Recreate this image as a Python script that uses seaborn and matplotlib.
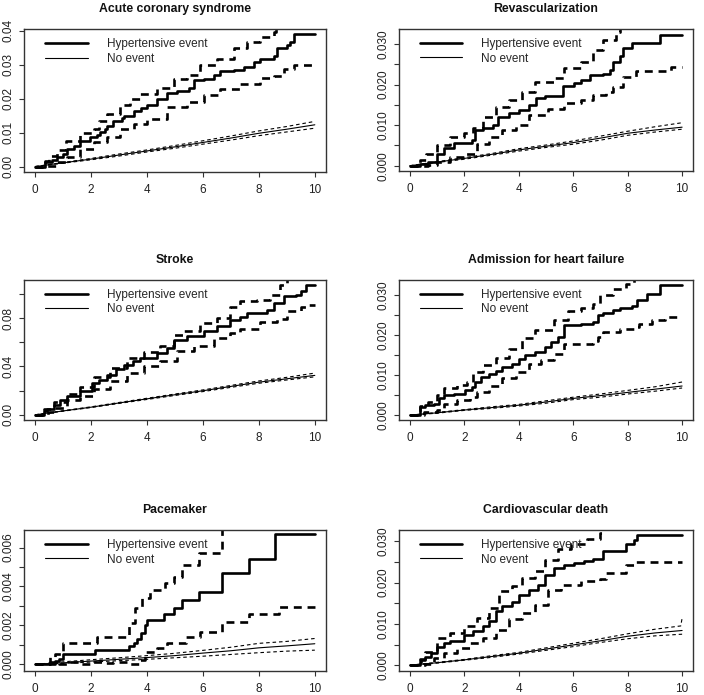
import matplotlib
matplotlib.use("Agg")
import matplotlib.pyplot as plt
from matplotlib.lines import Line2D
from matplotlib.ticker import FixedLocator, FixedFormatter
import seaborn as sns

# ---------------- data ----------------
titles = ["Acute coronary syndrome", "Revascularization", "Stroke",
          "Admission for heart failure", "Pacemaker", "Cardiovascular death"]
legend_labels = ["Hypertensive event", "No event"]
years = [0, 1, 2, 3, 4, 5, 6, 7, 8, 9, 10]
xticks = [0, 2, 4, 6, 8, 10]

# Acute coronary syndrome
acs_est_t = [0, 0.35, 0.6, 0.78, 1.0, 1.13, 1.4, 1.6, 1.97, 2.2, 2.33, 2.5, 2.57, 2.8, 3.1, 3.16, 3.52, 3.8, 4.0, 4.36, 4.71, 5.07, 5.49, 5.67, 6.03, 6.38, 6.62, 7.1, 7.46, 7.82, 8.05, 8.53, 8.65, 9.0, 9.13, 9.25, 10.0]
acs_est = [0, 0.0012, 0.002, 0.0027, 0.0038, 0.0051, 0.0062, 0.0074, 0.0086, 0.0094, 0.0101, 0.0112, 0.012, 0.0133, 0.0142, 0.015, 0.0165, 0.0172, 0.018, 0.020, 0.0216, 0.0222, 0.0232, 0.0254, 0.0257, 0.0269, 0.028, 0.0285, 0.0293, 0.0308, 0.0318, 0.0325, 0.0348, 0.0358, 0.0367, 0.0389, 0.0389]
acs_hi_t = [0, 0.35, 0.5, 0.78, 1.1, 1.6, 2.09, 2.3, 2.57, 3.04, 3.4, 3.76, 4.36, 4.95, 5.43, 5.9, 6.5, 7.1, 7.58, 8.05, 8.53, 8.6]
acs_hi = [0, 0.0015, 0.003, 0.005, 0.0075, 0.0098, 0.011, 0.0135, 0.0155, 0.018, 0.0198, 0.0214, 0.0232, 0.0259, 0.0269, 0.0298, 0.0318, 0.0348, 0.0367, 0.0382, 0.0397, 0.042]
acs_lo_t = [0, 0.4, 0.78, 1.13, 1.6, 2.09, 2.57, 3.04, 3.52, 4.0, 4.71, 5.43, 6.03, 6.62, 7.34, 8.05, 8.53, 8.89, 9.25, 10]
acs_lo = [0, 0.0003, 0.0012, 0.0027, 0.0051, 0.0071, 0.0088, 0.011, 0.0125, 0.014, 0.0175, 0.019, 0.0211, 0.0229, 0.0244, 0.0262, 0.0266, 0.0288, 0.0298, 0.0298]
acs_no_est = [0, 0.0011, 0.0022, 0.0034, 0.0046, 0.0058, 0.0071, 0.0084, 0.0098, 0.011, 0.0123]
acs_no_lo = [0, 0.001, 0.002, 0.0031, 0.0043, 0.0054, 0.0066, 0.0078, 0.0091, 0.0102, 0.0113]
acs_no_hi = [0, 0.0012, 0.0024, 0.0037, 0.0049, 0.0062, 0.0076, 0.0090, 0.0105, 0.0118, 0.0133]

# Revascularization
rev_est_t = [0, 0.36, 0.66, 1.01, 1.25, 1.61, 1.97, 2.27, 2.39, 2.68, 3.04, 3.22, 3.64, 4.0, 4.36, 4.65, 4.95, 5.61, 6.03, 6.27, 6.62, 7.1, 7.34, 7.46, 7.7, 7.82, 8.17, 9.19, 10]
rev_est = [0, 0.0005, 0.001, 0.003, 0.0043, 0.0055, 0.0057, 0.0063, 0.0088, 0.0094, 0.01, 0.012, 0.0129, 0.0137, 0.015, 0.0166, 0.0173, 0.0196, 0.0203, 0.0211, 0.0224, 0.0226, 0.0236, 0.0256, 0.027, 0.0289, 0.0303, 0.0323, 0.0323]
rev_hi_t = [0, 0.36, 0.6, 1.01, 1.49, 1.97, 2.33, 2.68, 3.16, 3.64, 4.12, 4.59, 5.31, 5.67, 6.27, 6.74, 7.1, 7.58, 7.7]
rev_hi = [0, 0.0014, 0.003, 0.0051, 0.0071, 0.008, 0.0092, 0.0121, 0.0145, 0.0162, 0.0182, 0.0207, 0.0215, 0.024, 0.0256, 0.0285, 0.031, 0.033, 0.036]
rev_lo_t = [0, 0.66, 1.01, 1.49, 1.97, 2.45, 2.92, 3.4, 3.88, 4.36, 5.07, 5.67, 6.27, 6.74, 7.22, 7.46, 7.82, 8.29, 9.6, 10]
rev_lo = [0, 0.0002, 0.001, 0.0022, 0.003, 0.0053, 0.007, 0.0088, 0.01, 0.0125, 0.0141, 0.0154, 0.0162, 0.0175, 0.0182, 0.0195, 0.0218, 0.0234, 0.0244, 0.0244]
rev_no_est = [0, 0.0009, 0.0018, 0.0028, 0.0039, 0.0048, 0.0057, 0.0068, 0.008, 0.0088, 0.0095]
rev_no_lo = [0, 0.0008, 0.0016, 0.0026, 0.0036, 0.0045, 0.0053, 0.0063, 0.0075, 0.0083, 0.009]
rev_no_hi = [0, 0.0010, 0.0020, 0.0030, 0.0042, 0.0051, 0.0061, 0.0073, 0.0085, 0.0096, 0.0106]

# Stroke
stk_est_t = [0, 0.3, 0.42, 0.66, 0.9, 1.13, 1.61, 2.03, 2.3, 2.57, 2.9, 3.16, 3.5, 3.76, 4.36, 4.71, 4.95, 5.43, 6.03, 6.5, 6.98, 7.34, 7.58, 8.29, 8.53, 8.89, 9.31, 9.49, 9.67, 10]
stk_est = [0, 0.0028, 0.005, 0.0083, 0.012, 0.0152, 0.0193, 0.0262, 0.029, 0.0331, 0.0375, 0.0414, 0.0445, 0.0469, 0.051, 0.0552, 0.0621, 0.0648, 0.069, 0.0731, 0.0786, 0.0806, 0.0841, 0.0863, 0.0924, 0.0979, 0.0993, 0.1026, 0.1076, 0.1076]
stk_hi_t = [0, 0.3, 0.66, 1.13, 1.61, 2.09, 2.68, 3.28, 3.88, 4.47, 4.95, 5.3, 5.9, 6.5, 6.98, 7.34, 7.94, 8.41, 8.77, 9.01]
stk_hi = [0, 0.005, 0.011, 0.0174, 0.0234, 0.0312, 0.0386, 0.0469, 0.0519, 0.0566, 0.066, 0.069, 0.0759, 0.08, 0.0888, 0.0938, 0.0952, 0.0993, 0.1076, 0.115]
stk_lo_t = [0, 0.45, 0.66, 1.13, 1.61, 2.09, 2.68, 3.28, 3.88, 4.47, 5.07, 5.67, 6.38, 6.98, 7.34, 8.05, 8.65, 9.01, 9.49, 9.73, 10]
stk_lo = [0, 0.002, 0.0055, 0.0124, 0.0152, 0.0215, 0.0276, 0.0345, 0.04, 0.0441, 0.053, 0.0566, 0.0634, 0.0676, 0.0712, 0.0767, 0.0794, 0.0861, 0.0888, 0.091, 0.091]
stk_no_est = [0, 0.0032, 0.0063, 0.0098, 0.0132, 0.0166, 0.0199, 0.0235, 0.027, 0.0298, 0.0326]
stk_no_lo = [0, 0.003, 0.006, 0.0094, 0.0127, 0.016, 0.0192, 0.0227, 0.0261, 0.0288, 0.0314]
stk_no_hi = [0, 0.0034, 0.0066, 0.0102, 0.0137, 0.0172, 0.0206, 0.0243, 0.028, 0.031, 0.0345]

# Admission for heart failure
hf_est_t = [0, 0.36, 0.54, 0.9, 1.07, 1.25, 1.61, 2.03, 2.27, 2.39, 2.63, 2.92, 3.16, 3.4, 3.76, 4.0, 4.24, 4.59, 4.95, 5.19, 5.43, 5.67, 6.27, 6.74, 6.92, 7.1, 7.46, 7.7, 8.17, 8.35, 8.71, 9.19, 10]
hf_est = [0, 0.0021, 0.0025, 0.0027, 0.0042, 0.005, 0.0054, 0.0063, 0.0071, 0.0083, 0.0096, 0.0102, 0.011, 0.0121, 0.0129, 0.014, 0.015, 0.0158, 0.0171, 0.0183, 0.0196, 0.0225, 0.0227, 0.0233, 0.025, 0.0256, 0.0263, 0.0268, 0.0273, 0.0288, 0.0304, 0.0325, 0.0325]
hf_hi_t = [0, 0.36, 0.66, 1.01, 1.25, 1.73, 2.09, 2.33, 2.68, 3.16, 3.64, 4.12, 4.59, 5.31, 5.79, 6.27, 6.74, 6.98, 7.46, 7.94, 8.23]
hf_hi = [0, 0.0022, 0.0033, 0.005, 0.0067, 0.0075, 0.0083, 0.0108, 0.0125, 0.0142, 0.0165, 0.0192, 0.0213, 0.0238, 0.026, 0.0268, 0.0279, 0.03, 0.0315, 0.0329, 0.035]
hf_lo_t = [0, 0.5, 1.01, 1.25, 1.73, 2.21, 2.45, 2.92, 3.4, 3.88, 4.36, 4.83, 5.31, 5.67, 6.74, 6.92, 7.1, 7.7, 8.23, 8.41, 8.89, 9.37, 10]
hf_lo = [0, 0.0008, 0.0013, 0.0029, 0.0038, 0.0046, 0.0058, 0.0073, 0.0092, 0.0108, 0.0129, 0.0138, 0.0154, 0.0179, 0.0185, 0.0196, 0.0208, 0.0215, 0.0221, 0.0229, 0.0238, 0.0246, 0.0246]
hf_no_est = [0, 0.0006, 0.0013, 0.0019, 0.0025, 0.0033, 0.0042, 0.0049, 0.0057, 0.0065, 0.0073]
hf_no_lo = [0, 0.0005, 0.0012, 0.0017, 0.0023, 0.003, 0.0039, 0.0045, 0.0053, 0.006, 0.0068]
hf_no_hi = [0, 0.0007, 0.0014, 0.0021, 0.0027, 0.0036, 0.0045, 0.0053, 0.0062, 0.0071, 0.0083]

# Pacemaker
pm_est_t = [0, 0.72, 0.84, 1.01, 2.15, 3.34, 3.52, 3.63, 3.8, 3.92, 4.0, 4.59, 4.95, 5.25, 5.85, 6.68, 7.64, 8.59, 10]
pm_est = [0, 0.00019, 0.0003, 0.00052, 0.00073, 0.00096, 0.00108, 0.0013, 0.0016, 0.002, 0.0023, 0.0026, 0.0029, 0.0033, 0.0037, 0.0047, 0.0054, 0.0067, 0.0067]
pm_hi_t = [0, 0.54, 0.72, 1.01, 2.21, 3.34, 3.58, 3.82, 4.12, 4.65, 4.95, 5.25, 5.85, 6.68]
pm_hi = [0, 0.00036, 0.00053, 0.0011, 0.0014, 0.0021, 0.0029, 0.0034, 0.0038, 0.0042, 0.0045, 0.0051, 0.0057, 0.008]
pm_lo_t = [0, 0.54, 0.84, 1.2, 1.6, 2.0, 2.4, 2.8, 3.3, 3.7, 3.92, 4.34, 4.7, 5.4, 5.9, 6.68, 7.64, 8.71, 10]
pm_lo = [0, 0.00012, 0.00003, 0.0001, 0.00004, 0.0001, 0.00005, 0.00012, 0.00003, 0.0002, 0.00065, 0.00082, 0.00108, 0.0014, 0.00167, 0.0022, 0.0026, 0.00295, 0.00295]
pm_no_est = [0, 0.00008, 0.00017, 0.00026, 0.00035, 0.00045, 0.00058, 0.0007, 0.00085, 0.00095, 0.00106]
pm_no_lo = [0, 0.00005, 0.00012, 0.00019, 0.00026, 0.00034, 0.00042, 0.00051, 0.0006, 0.00068, 0.00073]
pm_no_hi = [0, 0.00013, 0.00024, 0.00034, 0.00045, 0.00057, 0.00072, 0.00088, 0.00108, 0.00118, 0.00133]

# Cardiovascular death
cv_est_t = [0, 0.36, 0.42, 0.54, 0.78, 1.01, 1.25, 1.49, 1.97, 2.33, 2.68, 2.92, 3.16, 3.4, 3.76, 4.0, 4.36, 4.71, 4.95, 5.31, 5.67, 6.03, 6.38, 6.74, 7.1, 7.94, 8.23, 8.35, 10]
cv_est = [0, 0.0008, 0.0013, 0.0019, 0.0029, 0.0043, 0.0053, 0.0059, 0.0074, 0.0083, 0.0094, 0.0108, 0.013, 0.0142, 0.0154, 0.0171, 0.0183, 0.0195, 0.0219, 0.0235, 0.0243, 0.0247, 0.0251, 0.0257, 0.0277, 0.0294, 0.0304, 0.0316, 0.0316]
cv_hi_t = [0, 0.36, 0.54, 1.01, 1.49, 1.97, 2.45, 2.92, 3.28, 3.76, 4.12, 4.59, 4.95, 5.43, 5.91, 6.5, 6.98, 7.05]
cv_hi = [0, 0.0015, 0.0033, 0.0065, 0.0078, 0.0094, 0.0114, 0.0138, 0.0179, 0.0191, 0.0211, 0.0227, 0.0255, 0.028, 0.0292, 0.0306, 0.032, 0.034]
cv_lo_t = [0, 0.54, 0.9, 1.25, 1.73, 2.21, 2.68, 3.16, 3.64, 4.12, 4.59, 5.07, 5.55, 6.27, 6.98, 7.22, 7.94, 8.29, 10]
cv_lo = [0, 0.0002, 0.0017, 0.0029, 0.0041, 0.0053, 0.0065, 0.0086, 0.0112, 0.0126, 0.0146, 0.0183, 0.0193, 0.0203, 0.0209, 0.0223, 0.0243, 0.025, 0.025]
cv_no_est = [0, 0.0006, 0.0013, 0.0021, 0.0029, 0.0039, 0.0049, 0.0059, 0.007, 0.0078, 0.0084]
cv_no_lo = [0, 0.0005, 0.0012, 0.0019, 0.0027, 0.0036, 0.0045, 0.0055, 0.0064, 0.0071, 0.0075]
cv_no_hi_t = [0, 1, 2, 3, 4, 5, 6, 7, 8, 9, 9.95, 10]
cv_no_hi = [0, 0.0007, 0.0014, 0.0023, 0.0031, 0.0042, 0.0053, 0.0064, 0.0076, 0.0087, 0.0095, 0.0114]

# y ticks per panel (labels blank where R dropped them)
acs_yticks = [0.00, 0.01, 0.02, 0.03, 0.04]
acs_ylabels = ["0.00", "0.01", "0.02", "0.03", "0.04"]
rev_yticks = [0.0, 0.005, 0.010, 0.015, 0.020, 0.025, 0.030]
rev_ylabels = ["0.000", "", "0.010", "", "0.020", "", "0.030"]
stk_yticks = [0.0, 0.02, 0.04, 0.06, 0.08, 0.10]
stk_ylabels = ["0.00", "", "0.04", "", "0.08", ""]
hf_yticks = [0.0, 0.005, 0.010, 0.015, 0.020, 0.025, 0.030]
hf_ylabels = ["0.000", "", "0.010", "", "0.020", "", "0.030"]
pm_yticks = [0.0, 0.001, 0.002, 0.003, 0.004, 0.005, 0.006]
pm_ylabels = ["0.000", "", "0.002", "", "0.004", "", "0.006"]
cv_yticks = [0.0, 0.005, 0.010, 0.015, 0.020, 0.025, 0.030]
cv_ylabels = ["0.000", "", "0.010", "", "0.020", "", "0.030"]

# ---------------- layout / style ----------------
sns.set_theme(style="ticks")
plt.rcParams["font.family"] = ["Liberation Sans", "DejaVu Sans"]

W, H = 704, 695
fig = plt.figure(figsize=(W / 100, H / 100), dpi=100)

def frac(l, t, r, b):
    return [l / W, 1 - b / H, (r - l) / W, (b - t) / H]

boxes = [frac(24, 29, 326, 172), frac(399, 29, 693, 171),
         frac(24, 280, 326, 420), frac(399, 280, 693, 420),
         frac(24, 530, 326, 671), frac(399, 530, 693, 671)]
ylims = [(-0.0016, 0.0405), (-0.0013, 0.0337), (-0.0043, 0.1115),
         (-0.0012, 0.0338), (-0.00034, 0.0069), (-0.0014, 0.0327)]

panels = [
    (acs_est_t, acs_est, acs_hi_t, acs_hi, acs_lo_t, acs_lo, years, acs_no_est, acs_no_lo, years, acs_no_hi, acs_yticks, acs_ylabels),
    (rev_est_t, rev_est, rev_hi_t, rev_hi, rev_lo_t, rev_lo, years, rev_no_est, rev_no_lo, years, rev_no_hi, rev_yticks, rev_ylabels),
    (stk_est_t, stk_est, stk_hi_t, stk_hi, stk_lo_t, stk_lo, years, stk_no_est, stk_no_lo, years, stk_no_hi, stk_yticks, stk_ylabels),
    (hf_est_t, hf_est, hf_hi_t, hf_hi, hf_lo_t, hf_lo, years, hf_no_est, hf_no_lo, years, hf_no_hi, hf_yticks, hf_ylabels),
    (pm_est_t, pm_est, pm_hi_t, pm_hi, pm_lo_t, pm_lo, years, pm_no_est, pm_no_lo, years, pm_no_hi, pm_yticks, pm_ylabels),
    (cv_est_t, cv_est, cv_hi_t, cv_hi, cv_lo_t, cv_lo, years, cv_no_est, cv_no_lo, cv_no_hi_t, cv_no_hi, cv_yticks, cv_ylabels),
]

THICK = 1.9
THIN = 0.8
thick_dash = (0, (3.0, 2.2))
thin_dash = (0, (3.2, 2.6))

for i, (box, ylim, p) in enumerate(zip(boxes, ylims, panels)):
    (et, ev, ht, hv, lt, lv, nt, nv, nlv, nht, nhv, yt, yl) = p
    ax = fig.add_axes(box)
    kw = dict(ax=ax, estimator=None, color="black", legend=False)
    # hypertensive event
    sns.lineplot(x=et, y=ev, lw=THICK, drawstyle="steps-post", **kw)
    sns.lineplot(x=ht, y=hv, lw=THICK, drawstyle="steps-post", ls=thick_dash, **kw)
    sns.lineplot(x=lt, y=lv, lw=THICK, drawstyle="steps-post", ls=thick_dash, **kw)
    # no event
    sns.lineplot(x=nt, y=nv, lw=THIN, **kw)
    sns.lineplot(x=nt, y=nlv, lw=THIN, ls=thin_dash, **kw)
    sns.lineplot(x=nht, y=nhv, lw=THIN, ls=thin_dash, **kw)

    ax.set_xlim(-0.4, 10.4)
    ax.set_ylim(*ylim)
    ax.set_xlabel("")
    ax.set_ylabel("")
    ax.xaxis.set_major_locator(FixedLocator(xticks))
    ax.set_xticklabels([str(v) for v in xticks])
    ax.yaxis.set_major_locator(FixedLocator(yt))
    ax.yaxis.set_major_formatter(FixedFormatter(yl))
    for s in ax.spines.values():
        s.set_visible(True)
        s.set_linewidth(1.0)
        s.set_color("#333333")
    ax.tick_params(axis="both", direction="out", length=3.8, width=0.8,
                   color="#333333", labelsize=8.5, labelcolor="#222222")
    ax.tick_params(axis="x", pad=5)
    ax.tick_params(axis="y", pad=3, labelrotation=90)
    for lab in ax.get_yticklabels():
        lab.set_va("center")
    ax.set_title(titles[i], fontsize=8.8, fontweight="bold", pad=12, color="#111111")

    handles = [Line2D([], [], color="black", lw=THICK),
               Line2D([], [], color="black", lw=THIN)]
    ax.legend(handles, legend_labels, loc="upper left", bbox_to_anchor=(0.07, 0.935),
              frameon=False, fontsize=8.5, handlelength=3.6, handletextpad=1.6,
              labelspacing=0.2, borderpad=0, borderaxespad=0)

fig.savefig("out.png", dpi=100)
